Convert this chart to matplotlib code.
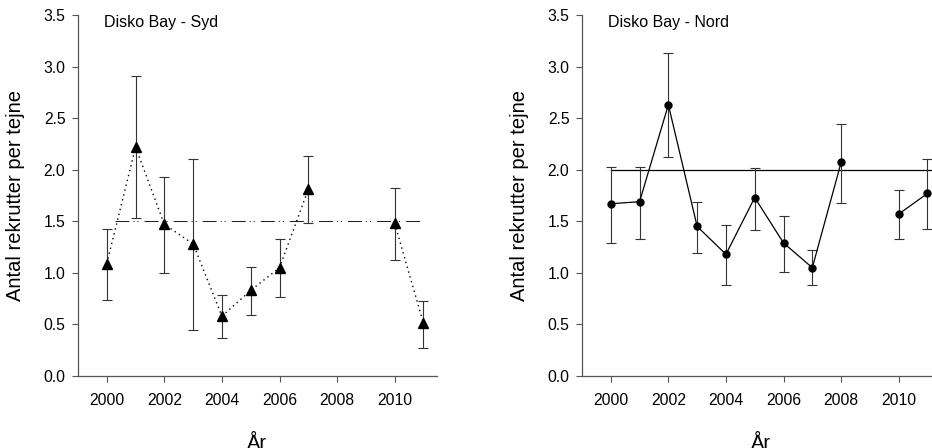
import numpy as np
import matplotlib
matplotlib.use("Agg")
import matplotlib.pyplot as plt

plt.rcParams['font.family'] = ['Liberation Sans', 'DejaVu Sans']

# Data (NaN = no survey that year)
years = [2000, 2001, 2002, 2003, 2004, 2005, 2006, 2007, 2008, 2009, 2010, 2011]

syd_mean = [1.09, 2.22, 1.47, 1.28, 0.58, 0.83, 1.05, 1.81, np.nan, np.nan, 1.48, 0.51]
syd_upper = [1.43, 2.91, 1.93, 2.10, 0.79, 1.06, 1.33, 2.13, np.nan, np.nan, 1.82, 0.73]
syd_lower = [0.74, 1.53, 1.00, 0.45, 0.37, 0.59, 0.77, 1.48, np.nan, np.nan, 1.12, 0.27]
syd_ref = 1.5
syd_ref_span = [2000.3, 2011.0]

nord_mean = [1.67, 1.69, 2.63, 1.45, 1.18, 1.73, 1.29, 1.05, 2.07, np.nan, 1.57, 1.77]
nord_upper = [2.03, 2.03, 3.13, 1.69, 1.46, 2.02, 1.55, 1.22, 2.44, np.nan, 1.80, 2.10]
nord_lower = [1.29, 1.33, 2.12, 1.19, 0.88, 1.42, 1.01, 0.88, 1.68, np.nan, 1.33, 1.43]
nord_ref = 2.0
nord_ref_span = [2000.0, 2012.0]

W, H = 932, 448
fig = plt.figure(figsize=(W / 100, H / 100), dpi=100)

spine_col = '#555555'
err_col = '#333333'


def setup_axes(ax, title):
    ax.set_xlim(1999, 2011.47)
    ax.set_ylim(0, 3.5)
    ax.set_xticks([2000, 2002, 2004, 2006, 2008, 2010])
    ax.set_yticks(np.arange(0, 3.51, 0.5))
    ax.yaxis.set_major_formatter(matplotlib.ticker.FormatStrFormatter('%.1f'))
    for s in ['top', 'right']:
        ax.spines[s].set_visible(False)
    for s in ['left', 'bottom']:
        ax.spines[s].set_color(spine_col)
        ax.spines[s].set_linewidth(0.9)
    ax.tick_params(axis='x', direction='out', length=4, width=0.8,
                   color=spine_col, labelsize=11.3, pad=8)
    ax.tick_params(axis='y', direction='out', length=4, width=0.8,
                   color=spine_col, labelsize=11.3, pad=5)
    ax.set_ylabel('Antal rekrutter per tejne', fontsize=14.5)
    ax.set_xlabel('År', fontsize=14.5)
    ax.yaxis.set_label_coords(-53 / 359, 0.5)
    ax.xaxis.set_label_coords(0.5, -58 / 361)
    ax.text(26 / 359, 1 - 7 / 361, title, transform=ax.transAxes,
            fontsize=11.5, va='center', ha='left')


def draw_errors(ax, x, mean, lower, upper):
    mean = np.array(mean)
    yerr = [mean - np.array(lower), np.array(upper) - mean]
    ax.errorbar(x, mean, yerr=yerr, fmt='none', ecolor=err_col,
                elinewidth=0.8, capsize=3.3, capthick=0.8, zorder=2)


# Left panel: Disko Bay - Syd
ax1 = fig.add_axes([78 / W, (H - 376) / H, 359 / W, 361 / H])
setup_axes(ax1, 'Disko Bay - Syd')
ax1.plot(syd_ref_span, [syd_ref, syd_ref], color='#222222', lw=0.75,
         linestyle=(0, (13.4, 3.8, 1, 2.9, 1, 5.8)), zorder=1)
draw_errors(ax1, years, syd_mean, syd_lower, syd_upper)
ax1.plot(years, syd_mean, color='black', lw=1.0, linestyle=(0, (1, 2.6)),
         marker='^', markersize=6.5, markerfacecolor='black',
         markeredgecolor='black', zorder=3)

# Right panel: Disko Bay - Nord (cut off at the figure edge)
ax2 = fig.add_axes([582 / W, (H - 376) / H, 359 / W, 361 / H])
setup_axes(ax2, 'Disko Bay - Nord')
ax2.plot(nord_ref_span, [nord_ref, nord_ref], color='black', lw=0.9, zorder=1)
draw_errors(ax2, years, nord_mean, nord_lower, nord_upper)
ax2.plot(years, nord_mean, color='black', lw=0.9, linestyle='-',
         marker='o', markersize=5, markerfacecolor='black',
         markeredgecolor='black', zorder=3)

fig.savefig('out.png', dpi=100)
